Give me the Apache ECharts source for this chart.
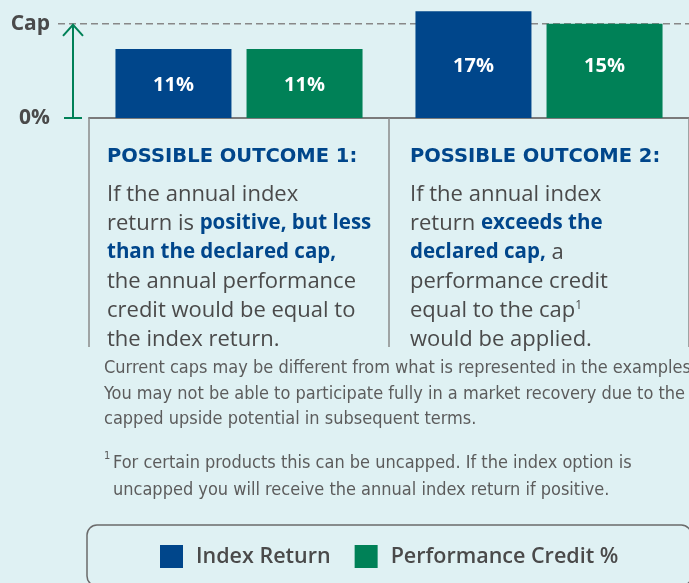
<!DOCTYPE html>
<html>
<head>
<meta charset="utf-8">
<script src="https://cdn.jsdelivr.net/npm/echarts@6/dist/echarts.min.js"></script>
<style>
  html, body { margin: 0; padding: 0; background: #dff1f3; }
  #chart { width: 689px; height: 583px; }
</style>
</head>
<body>
<div id="chart"></div>
<script>
// chart values
const outcomes = ['Possible Outcome 1', 'Possible Outcome 2'];
const indexReturn = [11, 17];
const performanceCredit = [11, 15];
const capValue = 15;
const seriesNames = ['Index Return', 'Performance Credit %'];
const axisTickLabels = { 0: '0%', 15: 'Cap' };

// texts
const headings = ['POSSIBLE OUTCOME 1:', 'POSSIBLE OUTCOME 2:'];
const descriptions = [
  'If the annual index\nreturn is {b|positive, but less}\n{b|than the declared cap,}\nthe annual performance\ncredit would be equal to\nthe index return.',
  'If the annual index\nreturn {b|exceeds the}\n{b|declared cap,} a\nperformance credit\nequal to the cap{sup|1}\nwould be applied.'
];
const disclaimer = 'Current caps may be different from what is represented in the examples.\nYou may not be able to participate fully in a market recovery due to the\ncapped upside potential in subsequent terms.';
const footnote = 'For certain products this can be uncapped. If the index option is\nuncapped you will receive the annual index return if positive.';

const BLUE = '#00468b';
const GREEN = '#008157';
const TEXT = '#4a4a4a';
const FONT = "'Open Sans', sans-serif";
const NARROW = "'Liberation Sans Narrow', 'DejaVu Sans Condensed', sans-serif";

const chart = echarts.init(document.getElementById('chart'), null, { renderer: 'canvas' });

function barData(values, shifts) {
  return values.map((v, i) => ({ value: v, label: { offset: [0, shifts[i]] } }));
}

const barLabel = {
  show: true,
  position: 'inside',
  color: '#fff',
  fontFamily: FONT,
  fontWeight: 'bold',
  fontSize: 20,
  formatter: '{c}%'
};

chart.setOption({
  backgroundColor: '#dff1f3',
  animation: false,
  grid: { left: 89, top: 0, width: 600, height: 118, containLabel: false },
  legend: {
    left: 87,
    top: 525,
    width: 480,
    orient: 'horizontal',
    padding: [20, 73, 18, 73],
    borderColor: '#6b6b6b',
    borderWidth: 1.5,
    borderRadius: 10,
    itemWidth: 23,
    itemHeight: 23,
    itemGap: 24,
    icon: 'rect',
    selectedMode: false,
    textStyle: { fontFamily: FONT, fontSize: 21.5, fontWeight: 600, color: TEXT, padding: [0, 0, 0, 8] },
    data: seriesNames
  },
  xAxis: {
    type: 'category',
    data: outcomes,
    axisLine: { lineStyle: { color: '#7a7a7a', width: 2 } },
    axisTick: { show: true, length: 229, lineStyle: { color: '#8a8a8a', width: 1.5 } },
    axisLabel: { show: false }
  },
  yAxis: {
    type: 'value',
    min: 0,
    max: 18.8,
    interval: 15,
    axisLine: { show: false },
    axisTick: { show: false },
    splitLine: { show: false },
    axisLabel: {
      margin: 39,
      fontFamily: FONT,
      fontWeight: 'bold',
      fontSize: 21,
      color: TEXT,
      formatter: v => axisTickLabels[v] || ''
    }
  },
  series: [
    {
      name: seriesNames[0],
      type: 'bar',
      barWidth: 116,
      barGap: '13%',
      itemStyle: { color: BLUE },
      label: barLabel,
      data: barData(indexReturn, [2, 2]),
      z: 3
    },
    {
      name: seriesNames[1],
      type: 'bar',
      barWidth: 116,
      itemStyle: { color: GREEN },
      label: barLabel,
      data: barData(performanceCredit, [2, -5]),
      z: 3
    }
  ]
});

// decorations placed from the axis scale
const yCap = chart.convertToPixel({ yAxisIndex: 0 }, capValue);
const yZero = chart.convertToPixel({ yAxisIndex: 0 }, 0);
const textLeft = [107, 410];

const graphics = [
  {
    type: 'line', z: 1,
    shape: { x1: 58, y1: yCap, x2: 689, y2: yCap },
    style: { stroke: '#888', lineWidth: 1.5, lineDash: [7, 4] }
  },
  {
    type: 'line', z: 5,
    shape: { x1: 73, y1: yZero, x2: 73, y2: yCap + 1 },
    style: { stroke: GREEN, lineWidth: 2 }
  },
  {
    type: 'polyline', z: 5,
    shape: { points: [[63, yCap + 12], [73, yCap + 1], [83, yCap + 12]] },
    style: { stroke: GREEN, lineWidth: 2, fill: null }
  },
  {
    type: 'line', z: 5,
    shape: { x1: 64, y1: yZero, x2: 82, y2: yZero },
    style: { stroke: GREEN, lineWidth: 2 }
  }
];

headings.forEach((h, i) => {
  graphics.push({
    type: 'text',
    x: textLeft[i], y: 157,
    style: {
      text: h, fill: BLUE, fontFamily: "'DejaVu Sans', sans-serif", fontWeight: 'bold', fontSize: 19.5,
      verticalAlign: 'middle'
    }
  });
  graphics.push({
    type: 'text',
    x: textLeft[i], y: 180,
    style: {
      text: descriptions[i], fill: TEXT, fontFamily: FONT, fontSize: 22, lineHeight: 29,
      rich: {
        b: { fill: BLUE, fontFamily: FONT, fontWeight: 'bold', fontSize: 20.5, lineHeight: 29 },
        sup: { fill: TEXT, fontFamily: FONT, fontSize: 12, lineHeight: 29, padding: [0, 0, 10, 0] }
      }
    }
  });
});

graphics.push({
  type: 'text',
  x: 104, y: 356,
  style: { text: disclaimer, fill: '#5c5c5c', fontFamily: NARROW, fontSize: 18, lineHeight: 25.5 }
});
graphics.push({
  type: 'text',
  x: 104, y: 451,
  style: { text: '1', fill: '#5c5c5c', fontFamily: NARROW, fontSize: 11 }
});
graphics.push({
  type: 'text',
  x: 113, y: 450,
  style: { text: footnote, fill: '#5c5c5c', fontFamily: NARROW, fontSize: 18, lineHeight: 27 }
});

chart.setOption({ graphic: graphics });
</script>
</body>
</html>
